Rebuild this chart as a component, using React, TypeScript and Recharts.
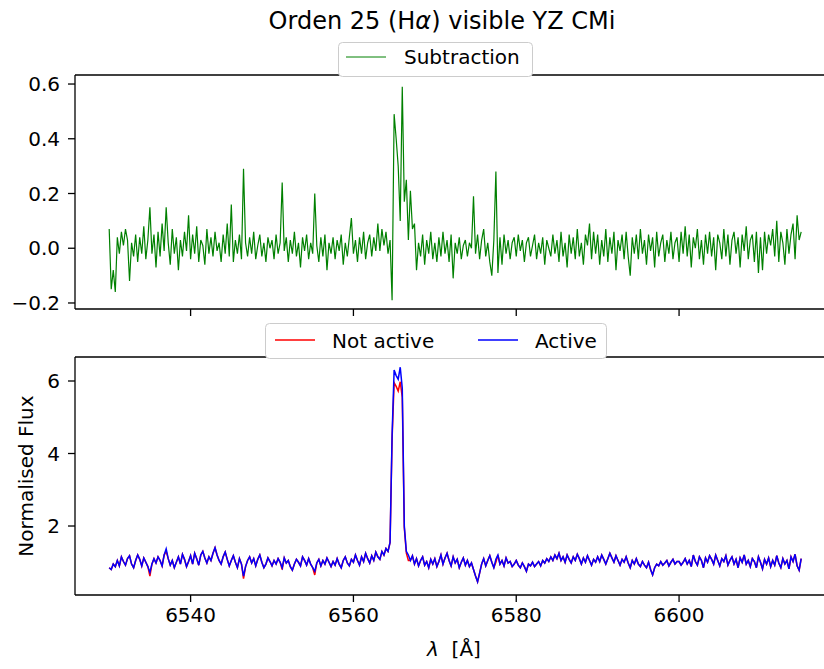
import React from 'react';
import { LineChart, Line, XAxis, YAxis, ReferenceLine } from 'recharts';

const FONT = '"DejaVu Sans", "Liberation Sans", sans-serif';

// Muestreo del espectro (Å)
const LAMBDA_START = 6530;
const LAMBDA_STEP = 0.25;

// Subtraction (Active - Not active), 6530 -> 6615 Å
const subtraction = [
  0.07, -0.15, -0.08, -0.16, 0.04, -0.02, 0.06, 0.01, 0.07, 0.03, -0.12, 0.02, -0.03, 0.05, -0.05, 0.04, -0.02, 0.08, -0.04, 0.03,
  0.15, -0.02, 0.05, -0.07, 0.06, -0.03, 0.09, -0.01, 0.15, 0.02, -0.06, 0.07, -0.02, 0.04, -0.08, 0.03, -0.03, 0.06, -0.01, 0.12,
  -0.04, 0.05, -0.02, 0.08, -0.05, 0.03, 0.01, -0.06, 0.07, -0.02, 0.04, -0.03, 0.06, -0.01, 0.02, -0.05, 0.05, -0.02, 0.09, -0.03,
  0.16, -0.05, 0.03, -0.02, 0.05, -0.04, 0.29, 0.02, -0.03, 0.04, -0.02, 0.06, -0.04, 0.01, 0.05, -0.03, 0.02, -0.05, 0.04, 0.0,
  0.03, -0.04, 0.05, -0.02, 0.02, 0.24, -0.01, 0.04, -0.05, 0.03, -0.02, 0.06, -0.03, 0.02, -0.07, 0.04, -0.01, 0.05, -0.04, 0.02,
  -0.02, 0.2, 0.01, -0.05, 0.04, -0.03, 0.05, -0.08, 0.02, -0.02, 0.04, -0.04, 0.03, -0.01, 0.05, -0.06, 0.02, -0.03, 0.04, 0.11,
  -0.02, 0.03, -0.05, 0.04, -0.02, 0.06, -0.04, 0.02, 0.05, -0.03, 0.04, -0.01, 0.09, -0.01, 0.07, 0.01, 0.06, -0.02, 0.03, -0.19,
  0.49, 0.4, 0.3, 0.1, 0.59, 0.17, 0.25, 0.03, 0.21, 0.07, 0.09, -0.08, 0.02, -0.03, 0.05, -0.06, 0.03, -0.02, 0.06, -0.04,
  0.02, -0.05, 0.04, -0.03, 0.06, -0.02, 0.03, -0.05, 0.05, -0.11, 0.02, -0.02, 0.04, -0.04, 0.01, 0.03, -0.03, 0.02, 0.0, 0.19,
  -0.02, 0.05, -0.04, 0.03, 0.07, -0.03, 0.02, -0.05, -0.1, 0.03, 0.28, -0.09, 0.04, -0.06, 0.05, -0.02, 0.03, -0.04, 0.02, 0.04,
  -0.03, 0.05, -0.01, 0.03, -0.05, 0.02, 0.04, -0.03, 0.01, 0.05, -0.04, 0.02, -0.02, 0.04, -0.06, 0.03, 0.0, -0.03, 0.05, -0.02,
  0.03, -0.05, 0.06, -0.03, 0.02, -0.07, 0.05, -0.02, 0.04, -0.04, 0.07, -0.03, 0.02, -0.06, 0.05, 0.01, 0.09, -0.04, 0.06, -0.02,
  0.05, -0.06, 0.03, -0.03, 0.07, -0.05, 0.04, -0.02, 0.06, -0.08, 0.03, -0.01, 0.05, -0.04, 0.06, -0.03, -0.1, 0.04, -0.02, 0.05,
  -0.04, 0.07, -0.02, 0.03, -0.06, 0.05, -0.01, 0.04, -0.07, 0.06, -0.03, 0.02, 0.05, -0.05, 0.03, -0.02, 0.06, -0.04, 0.02, 0.04,
  -0.05, 0.06, -0.02, 0.08, -0.03, 0.05, -0.07, 0.04, 0.0, 0.07, -0.04, 0.03, -0.06, 0.05, -0.02, 0.06, -0.03, 0.04, -0.08, 0.05,
  0.02, -0.04, 0.07, -0.03, 0.05, -0.06, 0.03, 0.06, -0.02, 0.04, -0.07, 0.05, -0.01, 0.08, -0.04, 0.03, 0.05, -0.05, 0.06, -0.09,
  0.04, -0.08, 0.06, -0.02, 0.05, 0.01, 0.07, -0.03, 0.1, -0.05, 0.06, 0.02, -0.06, 0.07, -0.02, 0.05, 0.09, -0.04, 0.12, 0.03,
  0.06,
];

// Active (azul)
const active = [
  0.85, 0.8, 0.95, 0.88, 1.05, 0.9, 1.15, 1.02, 0.92, 1.1, 1.18, 0.95, 0.85, 1.05, 1.2, 1.08, 0.9, 1.12, 1.0, 0.88,
  0.72, 0.95, 1.1, 0.98, 1.15, 1.05, 0.9, 1.2, 1.37, 1.1, 0.92, 1.05, 0.85, 1.0, 1.15, 0.95, 1.22, 1.08, 0.88, 1.02,
  1.18, 0.95, 1.25, 1.1, 0.92, 1.2, 1.3, 1.12, 0.98, 1.15, 1.05, 1.25, 1.4, 1.2, 1.05, 0.95, 1.15, 1.28, 1.08, 0.9,
  1.05, 1.18, 1.0, 0.85, 1.1, 0.95, 0.62, 0.88, 1.05, 1.15, 0.98, 1.1, 0.9, 1.08, 1.2, 1.0, 0.85, 0.95, 1.12, 1.02,
  0.9, 1.05, 0.95, 1.1, 1.0, 0.85, 1.12, 0.98, 1.05, 0.88, 0.78, 0.95, 1.08, 1.0, 0.9, 1.15, 1.05, 0.92, 1.1, 0.95,
  0.85, 0.75, 0.98, 1.08, 0.9, 1.05, 0.95, 1.12, 1.0, 0.88, 1.02, 0.92, 1.1, 0.95, 0.85, 1.05, 1.15, 0.98, 0.9, 1.08,
  1.0, 1.2, 1.05, 0.92, 1.15, 1.02, 1.25, 1.1, 0.98, 1.18, 1.05, 1.28, 1.15, 1.08, 1.3, 1.2, 1.38, 1.3, 1.55, 4.5,
  6.3, 6.15, 6.05, 6.38, 5.8, 2.0, 1.3, 1.2, 1.05, 1.18, 0.95, 1.1, 0.9, 1.05, 1.15, 0.92, 1.02, 0.85, 1.08, 0.95,
  1.1, 0.88, 1.02, 1.2, 0.95, 1.12, 1.25, 1.05, 0.9, 1.15, 0.98, 1.08, 0.85, 1.0, 1.12, 0.92, 1.05, 0.88, 0.98, 0.8,
  0.62, 0.46, 0.7, 0.95, 1.1, 0.9, 1.05, 1.18, 1.0, 0.85, 1.08, 1.2, 0.95, 1.05, 0.9, 1.12, 0.98, 1.02, 0.88, 0.95,
  1.05, 0.92, 0.85, 0.98, 0.88, 0.75, 0.95, 0.9, 1.0, 0.88, 0.95, 1.02, 0.9, 1.05, 0.98, 1.1, 1.02, 1.15, 1.05, 1.2,
  1.1, 1.25, 1.05, 1.15, 1.0, 1.2, 1.08, 0.98, 1.15, 1.05, 1.22, 1.1, 0.95, 1.12, 1.0, 1.18, 1.05, 0.92, 1.08, 1.0,
  1.15, 1.02, 1.2, 1.08, 0.95, 1.1, 1.25, 1.12, 1.0, 1.18, 1.05, 0.92, 1.08, 1.0, 1.15, 0.98, 0.85, 1.05, 0.95, 1.1,
  0.95, 0.88, 1.02, 0.92, 0.85, 1.0, 0.8, 0.65, 0.85, 0.95, 0.9, 1.02, 0.92, 0.98, 1.05, 0.9, 1.0, 1.08, 0.95, 1.02,
  1.02, 0.92, 1.0, 1.1, 0.95, 1.05, 0.88, 1.2, 1.02, 0.92, 1.15, 1.05, 0.85, 1.12, 1.0, 1.18, 1.08, 0.95, 1.2, 1.05,
  0.9, 1.1, 1.02, 1.18, 0.92, 1.05, 1.15, 0.95, 1.08, 0.85, 1.12, 1.0, 1.2, 0.95, 1.05, 0.88, 1.1, 1.02, 0.85, 1.15,
  1.0, 0.82, 1.08, 0.95, 1.12, 0.88, 1.05, 0.92, 1.18, 0.98, 0.85, 1.1, 0.95, 1.05, 0.82, 1.15, 1.02, 1.22, 0.9, 0.78,
  1.1,
];

// Not active (rojo)
const notActive = [
  0.85, 0.8, 0.95, 0.88, 1.05, 0.9, 1.15, 1.02, 0.92, 1.1, 1.18, 0.95, 0.85, 1.05, 1.2, 1.08, 0.9, 1.12, 1.0, 0.88,
  0.62, 0.95, 1.1, 0.98, 1.15, 1.05, 0.9, 1.2, 1.3, 1.1, 0.92, 1.05, 0.85, 1.0, 1.15, 0.95, 1.22, 1.08, 0.88, 1.02,
  1.18, 0.95, 1.25, 1.1, 0.92, 1.2, 1.3, 1.12, 0.98, 1.15, 1.05, 1.25, 1.4, 1.2, 1.05, 0.95, 1.15, 1.28, 1.08, 0.9,
  1.05, 1.18, 1.0, 0.85, 1.1, 0.95, 0.55, 0.88, 1.05, 1.15, 0.98, 1.1, 0.9, 1.08, 1.2, 1.0, 0.85, 0.95, 1.12, 1.02,
  0.9, 1.05, 0.95, 1.1, 1.0, 0.8, 1.12, 0.98, 1.05, 0.88, 0.78, 0.95, 1.08, 1.0, 0.9, 1.15, 1.05, 0.92, 1.1, 0.95,
  0.85, 0.65, 0.98, 1.08, 0.9, 1.05, 0.95, 1.12, 1.0, 0.88, 1.02, 0.92, 1.1, 0.95, 0.85, 1.05, 1.15, 0.98, 0.9, 1.08,
  1.0, 1.2, 1.05, 0.92, 1.15, 1.02, 1.25, 1.1, 0.98, 1.18, 1.05, 1.28, 1.15, 1.08, 1.3, 1.2, 1.38, 1.3, 1.55, 4.4,
  5.95, 5.85, 5.72, 5.98, 5.55, 1.95, 1.25, 1.05, 1.05, 1.18, 0.95, 1.1, 0.9, 1.05, 1.15, 0.92, 1.02, 0.85, 1.08, 0.95,
  1.1, 0.88, 1.02, 1.2, 0.95, 1.12, 1.25, 1.05, 0.9, 1.15, 0.98, 1.08, 0.85, 1.0, 1.12, 0.92, 1.05, 0.88, 0.98, 0.8,
  0.62, 0.46, 0.7, 0.95, 1.1, 0.9, 1.05, 1.18, 1.0, 0.85, 1.0, 1.2, 0.95, 1.05, 0.9, 1.12, 0.98, 1.02, 0.88, 0.95,
  1.05, 0.92, 0.85, 0.98, 0.88, 0.75, 0.95, 0.9, 1.0, 0.88, 0.95, 1.02, 0.9, 1.05, 0.98, 1.1, 1.02, 1.15, 1.05, 1.2,
  1.1, 1.25, 1.05, 1.15, 1.0, 1.2, 1.08, 0.98, 1.15, 1.05, 1.22, 1.1, 0.95, 1.12, 1.0, 1.18, 1.05, 0.92, 1.08, 1.0,
  1.15, 1.02, 1.2, 1.08, 0.95, 1.1, 1.25, 1.12, 1.0, 1.18, 1.05, 0.92, 1.08, 1.0, 1.15, 0.98, 0.85, 1.05, 0.95, 1.1,
  0.95, 0.88, 1.02, 0.92, 0.85, 1.0, 0.8, 0.65, 0.85, 0.95, 0.9, 1.02, 0.92, 0.98, 1.05, 0.9, 1.0, 1.08, 0.95, 1.02,
  1.02, 0.92, 1.0, 1.1, 0.95, 1.05, 0.88, 1.2, 1.02, 0.92, 1.15, 1.05, 0.85, 1.12, 1.0, 1.18, 1.08, 0.95, 1.2, 1.05,
  0.9, 1.1, 1.02, 1.18, 0.92, 1.05, 1.15, 0.95, 1.08, 0.85, 1.12, 1.0, 1.2, 0.95, 1.05, 0.88, 1.1, 1.02, 0.85, 1.15,
  1.0, 0.82, 1.08, 0.95, 1.12, 0.88, 1.05, 0.92, 1.18, 0.98, 0.85, 1.1, 0.95, 1.05, 0.82, 1.15, 1.02, 1.22, 0.9, 0.78,
  1.1,
];

const xTicks = [6540, 6560, 6580, 6600];
const topTicks = [-0.2, 0, 0.2, 0.4, 0.6];
const bottomTicks = [2, 4, 6];

const X_DOMAIN: [number, number] = [6525.8, 6619.4];
const TOP_DOMAIN: [number, number] = [-0.222, 0.633];
const BOTTOM_DOMAIN: [number, number] = [0.097, 6.662];

const wavelengths = subtraction.map((_, i) => LAMBDA_START + i * LAMBDA_STEP);

const topData = wavelengths.map((w, i) => ({ w, sub: subtraction[i] }));
const bottomData = wavelengths.map((w, i) => ({ w, active: active[i], notActive: notActive[i] }));

const axisStroke = { stroke: '#000', strokeWidth: 1.3 };
const tickStyle = { fill: '#000', fontSize: 20, fontFamily: FONT };

const fmtTop = (v: number) => (v < 0 ? `\u2212${Math.abs(v).toFixed(1)}` : v.toFixed(1));

export default function App() {
  return (
    <div
      style={{
        position: 'absolute',
        left: 0,
        top: 0,
        width: 824,
        height: 669,
        overflow: 'hidden',
        background: '#fff',
      }}
    >
      <div style={{ position: 'absolute', left: 0, top: 0 }}>
        <LineChart width={840} height={340} data={topData} margin={{ top: 75, right: 3, left: 0, bottom: 0 }}>
          <XAxis
            type="number"
            dataKey="w"
            domain={X_DOMAIN}
            ticks={xTicks}
            interval={0}
            allowDataOverflow
            height={31}
            tickSize={7}
            tickFormatter={() => ''}
            axisLine={axisStroke}
            tickLine={axisStroke}
          />
          <YAxis
            type="number"
            domain={TOP_DOMAIN}
            ticks={topTicks}
            interval={0}
            allowDataOverflow
            width={75}
            tickSize={7}
            tickMargin={8}
            tickFormatter={fmtTop}
            tick={tickStyle}
            axisLine={axisStroke}
            tickLine={axisStroke}
          />
          <ReferenceLine y={TOP_DOMAIN[1]} stroke="#000" strokeWidth={1.3} ifOverflow="visible" />
          <Line
            type="linear"
            dataKey="sub"
            stroke="#008000"
            strokeWidth={1.2}
            dot={false}
            isAnimationActive={false}
          />
        </LineChart>
      </div>

      <div style={{ position: 'absolute', left: 0, top: 330 }}>
        <LineChart width={840} height={339} data={bottomData} margin={{ top: 27, right: 3, left: 0, bottom: 0 }}>
          <XAxis
            type="number"
            dataKey="w"
            domain={X_DOMAIN}
            ticks={xTicks}
            interval={0}
            allowDataOverflow
            height={74}
            tickSize={7}
            tickMargin={6}
            tick={tickStyle}
            axisLine={axisStroke}
            tickLine={axisStroke}
          />
          <YAxis
            type="number"
            domain={BOTTOM_DOMAIN}
            ticks={bottomTicks}
            interval={0}
            allowDataOverflow
            width={75}
            tickSize={7}
            tickMargin={8}
            tick={tickStyle}
            axisLine={axisStroke}
            tickLine={axisStroke}
          />
          <ReferenceLine y={BOTTOM_DOMAIN[1]} stroke="#000" strokeWidth={1.3} ifOverflow="visible" />
          <Line
            type="linear"
            dataKey="notActive"
            stroke="#ff0000"
            strokeWidth={1.5}
            dot={false}
            isAnimationActive={false}
          />
          <Line
            type="linear"
            dataKey="active"
            stroke="#0000ff"
            strokeWidth={1.5}
            dot={false}
            isAnimationActive={false}
          />
        </LineChart>
      </div>

      {/* titulo, leyendas y etiquetas */}
      <svg
        width={824}
        height={669}
        style={{ position: 'absolute', left: 0, top: 0, pointerEvents: 'none' }}
        fontFamily={FONT}
      >
        <text x={442} y={29} fontSize={24} textAnchor="middle" fill="#000">
          Orden 25 (H<tspan fontStyle="italic">α</tspan>) visible YZ CMi
        </text>

        <rect x={338.5} y={42.5} width={194} height={34} rx={4} fill="#fff" stroke="#cccccc" />
        <line x1={346} y1={57} x2={386} y2={57} stroke="#008000" strokeWidth={1} />
        <text x={404} y={64} fontSize={20} fill="#000">Subtraction</text>

        <rect x={265.5} y={323.5} width={341} height={35} rx={4} fill="#fff" stroke="#cccccc" />
        <line x1={275} y1={340} x2={315} y2={340} stroke="#ff0000" strokeWidth={1.4} />
        <text x={332} y={348} fontSize={20} fill="#000">Not active</text>
        <line x1={478} y1={340} x2={518} y2={340} stroke="#0000ff" strokeWidth={1.4} />
        <text x={535} y={348} fontSize={20} fill="#000">Active</text>

        <text x={454} y={656} fontSize={20} textAnchor="middle" fill="#000">
          <tspan fontStyle="italic">λ</tspan>
          {'\u00a0\u00a0[Å]'}
        </text>
        <text transform="translate(33,476) rotate(-90)" fontSize={20} textAnchor="middle" fill="#000">
          Normalised Flux
        </text>
      </svg>
    </div>
  );
}
